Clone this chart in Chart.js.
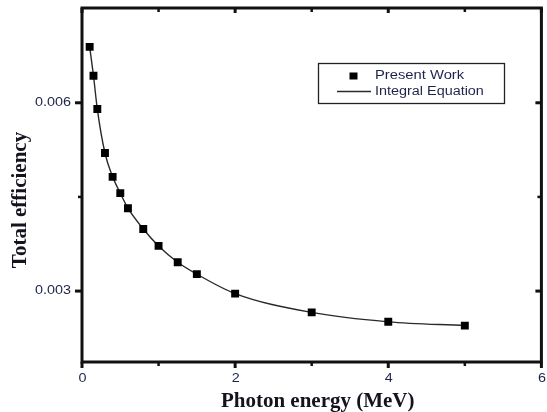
<!DOCTYPE html>
<html>
<head>
<meta charset="utf-8">
<script src="https://cdn.jsdelivr.net/npm/chart.js@4.4.0/dist/chart.umd.min.js"></script>
<style>
  html, body { margin: 0; padding: 0; background: #fff; }
</style>
</head>
<body>
<canvas id="chartEff" width="547" height="412"></canvas>
<script>
// photon energy (MeV) vs total efficiency
const ENERGY = [0.1, 0.15, 0.2, 0.3, 0.4, 0.5, 0.6, 0.8, 1.0, 1.25, 1.5, 2.0, 3.0, 4.0, 5.0];
const PRESENT_WORK = [0.00689, 0.00643, 0.00590, 0.00520, 0.00482, 0.00456, 0.00432, 0.00399, 0.00372, 0.00346, 0.00327, 0.00296, 0.00266, 0.00251, 0.00245];
const INTEGRAL_EQ = [0.00689, 0.00643, 0.00590, 0.00520, 0.00482, 0.00456, 0.00432, 0.00399, 0.00372, 0.00346, 0.00327, 0.00296, 0.00266, 0.00251, 0.00245];
const X_MAJOR = [0, 2, 4, 6];
const X_MINOR = [1, 3, 5];
const Y_MAJOR = [0.003, 0.006];
const Y_MINOR = [0.0045];
const X_TITLE = 'Photon energy (MeV)';
const Y_TITLE = 'Total efficiency';

const INK = '#111111';
const LABEL = '#1d2448';
const SANS = '12px "Liberation Sans", Arial, sans-serif';
const SERIF = 'bold 21px "Liberation Serif", "Times New Roman", serif';
const STRETCH = 1.2;

function stretchText(ctx, str, x, y, align, sx) {
  ctx.save();
  ctx.translate(x, y);
  ctx.scale(sx, 1);
  ctx.textAlign = align;
  ctx.fillText(str, 0, 0);
  ctx.restore();
}

function line(ctx, x1, y1, x2, y2, w) {
  ctx.lineWidth = w;
  ctx.beginPath();
  ctx.moveTo(x1, y1);
  ctx.lineTo(x2, y2);
  ctx.stroke();
}

const axesFrame = {
  id: 'axesFrame',
  afterDatasetsDraw(chart) {
    const { ctx, chartArea: a, scales: { x, y } } = chart;
    ctx.save();
    ctx.strokeStyle = INK;
    ctx.lineCap = 'butt';
    ctx.lineWidth = 3;
    ctx.strokeRect(a.left, a.top, a.right - a.left, a.bottom - a.top);

    // x ticks: outward at bottom, inward at top
    X_MAJOR.forEach(v => {
      const px = x.getPixelForValue(v);
      line(ctx, px, a.bottom, px, a.bottom + 6, 3);
      line(ctx, px, a.top, px, a.top + 5, 3);
    });
    X_MINOR.forEach(v => {
      const px = x.getPixelForValue(v);
      line(ctx, px, a.bottom, px, a.bottom + 4, 2.5);
      line(ctx, px, a.top, px, a.top + 4, 2.5);
    });
    // y ticks: outward at left, inward at right
    Y_MAJOR.forEach(v => {
      const py = y.getPixelForValue(v);
      line(ctx, a.left - 7, py, a.left, py, 3);
      line(ctx, a.right, py, a.right - 6, py, 3);
    });
    Y_MINOR.forEach(v => {
      const py = y.getPixelForValue(v);
      line(ctx, a.left - 4, py, a.left, py, 2.5);
      line(ctx, a.right, py, a.right - 4, py, 2.5);
    });

    // tick labels
    ctx.fillStyle = LABEL;
    ctx.font = SANS;
    ctx.textBaseline = 'middle';
    X_MAJOR.forEach(v => {
      stretchText(ctx, String(v), x.getPixelForValue(v) + 0.5, a.bottom + 17, 'center', STRETCH);
    });
    Y_MAJOR.forEach(v => {
      stretchText(ctx, v.toFixed(3), a.left - 11, y.getPixelForValue(v), 'right', STRETCH);
    });

    // axis titles
    ctx.fillStyle = '#14141f';
    ctx.font = SERIF;
    ctx.textBaseline = 'alphabetic';
    ctx.textAlign = 'center';
    ctx.fillText(X_TITLE, (a.left + a.right) / 2 + 6, 407);
    ctx.save();
    ctx.translate(26, 200);
    ctx.rotate(-Math.PI / 2);
    ctx.fillText(Y_TITLE, 0, 0);
    ctx.restore();

    // legend box
    const lx = 318.5, ly = 63.5, lw = 186, lh = 40;
    ctx.strokeStyle = '#222';
    ctx.lineWidth = 1.3;
    ctx.strokeRect(lx, ly, lw, lh);
    const pts = chart.data.datasets[0];
    const crv = chart.data.datasets[1];
    ctx.fillStyle = pts.backgroundColor;
    ctx.fillRect(349.5, 72.5, 8, 7);
    ctx.strokeStyle = crv.borderColor;
    line(ctx, 337, 91.5, 371, 91.5, 1.3);
    ctx.fillStyle = LABEL;
    ctx.font = SANS;
    ctx.textBaseline = 'middle';
    stretchText(ctx, pts.label, 375, 76, 'left', 1.23);
    stretchText(ctx, crv.label, 375, 91.5, 'left', 1.2);
    ctx.restore();
  }
};

new Chart(document.getElementById('chartEff'), {
  type: 'scatter',
  data: {
    datasets: [
      {
        label: 'Present Work',
        data: ENERGY.map((e, i) => ({ x: e, y: PRESENT_WORK[i] })),
        pointStyle: 'rect',
        pointRadius: 5.6,
        backgroundColor: '#000',
        borderWidth: 0,
        showLine: false,
        order: 0
      },
      {
        label: 'Integral Equation',
        data: ENERGY.map((e, i) => ({ x: e, y: INTEGRAL_EQ[i] })),
        showLine: true,
        borderColor: '#2a2a2a',
        borderWidth: 1.4,
        pointRadius: 0,
        cubicInterpolationMode: 'monotone',
        order: 1
      }
    ]
  },
  options: {
    responsive: false,
    animation: false,
    layout: { padding: { left: 82, top: 8, right: 2, bottom: 50 } },
    plugins: { legend: { display: false }, tooltip: { enabled: false } },
    scales: {
      x: { type: 'linear', min: 0, max: 6, display: false },
      y: { type: 'linear', min: 0.00187, max: 0.00751, display: false }
    }
  },
  plugins: [axesFrame]
});
</script>
</body>
</html>
